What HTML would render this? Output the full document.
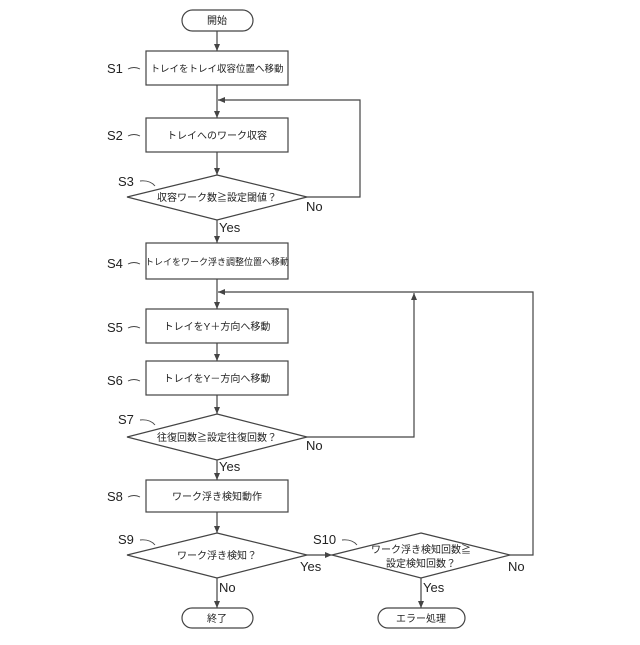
<!DOCTYPE html>
<html><head><meta charset="utf-8"><style>body{margin:0;background:#fff}</style></head><body>
<svg width="640" height="640" xmlns="http://www.w3.org/2000/svg" font-family="'Liberation Sans','Noto Sans CJK JP',sans-serif">
<defs><marker id="a" markerWidth="8" markerHeight="8" refX="7" refY="4" orient="auto" markerUnits="userSpaceOnUse"><path d="M0,1 L7,4 L0,7 z" fill="#444"/></marker></defs>
<g fill="none" stroke="#444" stroke-width="1.2">
<rect x="182" y="10" width="71" height="21" rx="10.5"/>
<rect x="146" y="51" width="142" height="34"/>
<rect x="146" y="118" width="142" height="34"/>
<polygon points="217,175 307,197 217,220 127,197"/>
<rect x="146" y="243" width="142" height="36"/>
<rect x="146" y="309" width="142" height="34"/>
<rect x="146" y="361" width="142" height="34"/>
<polygon points="217,414 307,437 217,460 127,437"/>
<rect x="146" y="480" width="142" height="32"/>
<polygon points="217,533 307,555 217,578 127,555"/>
<polygon points="421,533 510,555 421,578 332,555"/>
<rect x="182" y="608" width="71" height="20" rx="10"/>
<rect x="378" y="608" width="87" height="20" rx="10"/>
<line x1="217" y1="31" x2="217" y2="51" marker-end="url(#a)"/>
<line x1="217" y1="85" x2="217" y2="118" marker-end="url(#a)"/>
<line x1="217" y1="152" x2="217" y2="175" marker-end="url(#a)"/>
<polyline points="307,197 360,197 360,100 218,100" marker-end="url(#a)"/>
<line x1="217" y1="220" x2="217" y2="243" marker-end="url(#a)"/>
<line x1="217" y1="279" x2="217" y2="309" marker-end="url(#a)"/>
<line x1="217" y1="343" x2="217" y2="361" marker-end="url(#a)"/>
<line x1="217" y1="395" x2="217" y2="414" marker-end="url(#a)"/>
<polyline points="307,437 414,437 414,293" marker-end="url(#a)"/>
<polyline points="510,555 533,555 533,292 218,292" marker-end="url(#a)"/>
<line x1="217" y1="460" x2="217" y2="480" marker-end="url(#a)"/>
<line x1="217" y1="512" x2="217" y2="533" marker-end="url(#a)"/>
<line x1="307" y1="555" x2="332" y2="555" marker-end="url(#a)"/>
<line x1="217" y1="578" x2="217" y2="608" marker-end="url(#a)"/>
<line x1="421" y1="578" x2="421" y2="608" marker-end="url(#a)"/>
<path d="M128,69 q6,-3 12,0 M128,136 q6,-3 12,0 M140,181 q10,-1 15,5 M128,264 q6,-3 12,0 M128,328 q6,-3 12,0 M128,381 q6,-3 12,0 M140,420 q10,-1 15,5 M128,497 q6,-3 12,0 M140,540 q10,-1 15,5 M342,540 q10,-1 15,5" stroke-width="0.9"/>
</g>
<g font-size="10" text-anchor="middle" fill="#222">
<text x="217" y="24">開始</text>
<text x="217" y="72" font-size="9.5">トレイをトレイ収容位置へ移動</text>
<text x="217" y="139">トレイへのワーク収容</text>
<text x="217" y="201">収容ワーク数≧設定閾値？</text>
<text x="217" y="265" font-size="9">トレイをワーク浮き調整位置へ移動</text>
<text x="217" y="330">トレイをY＋方向へ移動</text>
<text x="217" y="382">トレイをY－方向へ移動</text>
<text x="217" y="441">往復回数≧設定往復回数？</text>
<text x="217" y="500">ワーク浮き検知動作</text>
<text x="217" y="559">ワーク浮き検知？</text>
<text x="421" y="553">ワーク浮き検知回数≧</text>
<text x="421" y="567">設定検知回数？</text>
<text x="217" y="622">終了</text>
<text x="421" y="622">エラー処理</text>
</g>
<g font-size="13" fill="#222">
<text x="107" y="73">S1</text><text x="107" y="140">S2</text><text x="118" y="186">S3</text>
<text x="107" y="268">S4</text><text x="107" y="332">S5</text><text x="107" y="385">S6</text>
<text x="118" y="424">S7</text><text x="107" y="501">S8</text><text x="118" y="544">S9</text>
<text x="313" y="544">S10</text>
<text x="306" y="211">No</text><text x="219" y="232">Yes</text>
<text x="306" y="450">No</text><text x="219" y="471">Yes</text>
<text x="300" y="571">Yes</text><text x="219" y="592">No</text>
<text x="508" y="571">No</text><text x="423" y="592">Yes</text>
</g>
</svg>
</body></html>
